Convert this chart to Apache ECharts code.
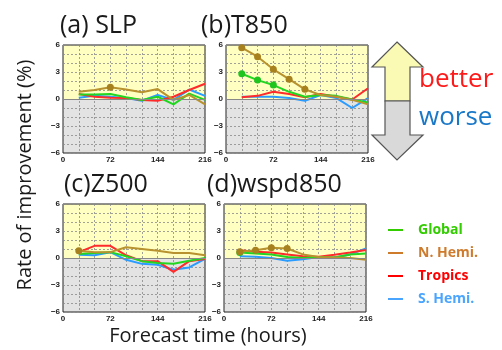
<!DOCTYPE html>
<html>
<head>
<meta charset="utf-8">
<script src="https://cdn.jsdelivr.net/npm/echarts@6/dist/echarts.min.js"></script>
<style>
  html, body { margin: 0; padding: 0; background: #fff; }
  #chart { width: 502px; height: 350px; }
</style>
</head>
<body>
<div id="chart"></div>
<script>
// forecast lead times (hours)
const hours = [24, 48, 72, 96, 120, 144, 168, 192, 216];
const xTickLabels = [0, 72, 144, 216];
const yTickLabels = [-6, -3, 0, 3, 6];

const regionNames = ['Global', 'N. Hemi.', 'Tropics', 'S. Hemi.'];
const panelTitles = ['(a) SLP', '(b)T850', '(c)Z500', '(d)wspd850'];

// (a) SLP
const slpGlobal = [0.5, 0.5, 0.55, 0.2, -0.1, 0.25, -0.6, 0.6, -0.1];
const slpNH     = [0.8, 1.0, 1.3, 1.05, 0.75, 1.1, -0.1, 0.45, -0.6];
const slpTrop   = [0.55, 0.25, 0.15, 0.1, -0.1, -0.2, 0.25, 1.0, 1.7];
const slpSH     = [0.15, 0.35, 0.25, 0.1, -0.2, 0.45, -0.1, 1.05, 0.35];
// (b) T850
const t850Global = [2.8, 2.1, 1.55, 0.8, 0.25, 0.45, 0.35, -0.05, -0.4];
const t850NH     = [5.7, 4.7, 3.3, 2.2, 1.07, 0.45, 0.25, -0.1, -0.6];
const t850Trop   = [0.2, 0.35, 0.8, 0.55, 0.2, 0.55, 0.25, -0.05, 1.2];
const t850SH     = [0.25, 0.25, 0.25, 0.1, -0.2, 0.45, 0.1, -1.0, 0.1];
// (c) Z500
const z500Global = [0.45, 0.55, 0.65, 0.2, -0.35, -0.55, -0.65, -0.3, 0.0];
const z500NH     = [0.8, 0.65, 0.65, 1.2, 1.0, 0.8, 0.55, 0.55, 0.3];
const z500Trop   = [0.65, 1.35, 1.35, 0.3, -0.35, -0.35, -1.55, -0.35, -0.1];
const z500SH     = [0.35, 0.3, 0.65, -0.2, -0.65, -0.75, -1.3, -1.05, -0.1];
// (d) wspd850
const wspdGlobal = [0.6, 0.5, 0.4, 0.1, 0.0, 0.1, 0.05, 0.4, 0.5];
const wspdNH     = [0.7, 0.85, 1.15, 1.05, 0.4, 0.1, 0.05, 0.0, -0.2];
const wspdTrop   = [0.85, 0.7, 0.6, 0.4, 0.2, 0.15, 0.35, 0.6, 0.9];
const wspdSH     = [0.2, 0.15, 0.0, -0.3, -0.15, 0.1, 0.05, 0.4, 1.05];

// lead times marked with a dot (significant)
const slpNHDots = [72];
const t850NHDots = [24, 48, 72, 96, 120];
const t850GlobalDots = [24, 48, 72];
const z500NHDots = [24];
const wspdNHDots = [24, 48, 72, 96];
const wspdGlobalDots = [24];

const colors = {
  'Global': '#22d622',
  'N. Hemi.': '#b8922e',
  'Tropics': '#ff2b2b',
  'S. Hemi.': '#2b9cff'
};
const dotColors = {
  'Global': '#1fc41f',
  'N. Hemi.': '#a8811f',
  'Tropics': '#ff2b2b',
  'S. Hemi.': '#2b9cff'
};
const legendColors = {
  'Global': '#33cc00',
  'N. Hemi.': '#cf7b2c',
  'Tropics': '#ff0000',
  'S. Hemi.': '#4aa5ff'
};

const panels = [
  { left: 63,  top: 45,  data: { 'Global': slpGlobal, 'N. Hemi.': slpNH, 'Tropics': slpTrop, 'S. Hemi.': slpSH },
    dots: { 'N. Hemi.': slpNHDots } },
  { left: 226, top: 45,  data: { 'Global': t850Global, 'N. Hemi.': t850NH, 'Tropics': t850Trop, 'S. Hemi.': t850SH },
    dots: { 'N. Hemi.': t850NHDots, 'Global': t850GlobalDots } },
  { left: 63,  top: 204, data: { 'Global': z500Global, 'N. Hemi.': z500NH, 'Tropics': z500Trop, 'S. Hemi.': z500SH },
    dots: { 'N. Hemi.': z500NHDots } },
  { left: 224, top: 204, data: { 'Global': wspdGlobal, 'N. Hemi.': wspdNH, 'Tropics': wspdTrop, 'S. Hemi.': wspdSH },
    dots: { 'N. Hemi.': wspdNHDots, 'Global': wspdGlobalDots } }
];

const grids = [], xAxes = [], yAxes = [], series = [], titles = [];
const titlePos = [[55, 8], [196, 8], [59, 167], [202, 167]];
const drawOrder = ['S. Hemi.', 'Tropics', 'Global', 'N. Hemi.'];

panels.forEach((p, i) => {
  grids.push({ left: p.left, top: p.top, width: 142, height: 108, show: true,
    borderColor: '#222', borderWidth: 1, backgroundColor: 'transparent', z: 1 });
  xAxes.push({ type: 'value', gridIndex: i, min: 0, max: 216, interval: 24, z: 1,
    axisLine: { show: false }, axisTick: { show: false },
    axisLabel: { margin: 3, fontSize: 8, fontWeight: 'bold', color: '#222', fontFamily: 'Liberation Sans',
      formatter: v => xTickLabels.includes(v) ? String(v) : '' },
    splitLine: { show: true, lineStyle: { color: '#8a8a8a', width: 0.8, type: [2, 2] } } });
  yAxes.push({ type: 'value', gridIndex: i, min: -6, max: 6, interval: 1, z: 1,
    axisLine: { show: false }, axisTick: { show: false },
    axisLabel: { margin: 3, fontSize: 8, fontWeight: 'bold', color: '#222', fontFamily: 'Liberation Sans',
      formatter: v => yTickLabels.includes(v) ? (v < 0 ? '\u2212' + (-v) : String(v)) : '' },
    splitLine: { show: true, lineStyle: { color: '#8a8a8a', width: 0.8, type: [2, 2] } } });

  // background: yellow = better, gray = worse
  series.push({ type: 'line', xAxisIndex: i, yAxisIndex: i, data: [], z: 0, silent: true,
    markArea: { silent: true, z: 0, data: [
      [{ yAxis: 0, itemStyle: { color: '#ffffc2' } }, { yAxis: 6 }],
      [{ yAxis: -6, itemStyle: { color: '#e3e3e3' } }, { yAxis: 0 }]
    ] },
    markLine: { silent: true, symbol: 'none', label: { show: false },
      lineStyle: { color: '#888', width: 1, type: 'solid' }, data: [{ yAxis: 0 }] } });

  drawOrder.forEach(name => {
    const vals = p.data[name];
    const dots = p.dots[name] || [];
    series.push({
      type: 'line', name: name, xAxisIndex: i, yAxisIndex: i, z: 3,
      color: colors[name], symbolSize: 7,
      lineStyle: { width: 2, color: colors[name] },
      itemStyle: { color: dotColors[name] },
      data: hours.map((h, k) => ({ value: [h, vals[k]], symbol: dots.includes(h) ? 'circle' : 'none' }))
    });
  });

  titles.push({ text: panelTitles[i], left: titlePos[i][0], top: titlePos[i][1],
    textStyle: { fontSize: 25, fontWeight: 'normal', color: '#1a1a1a', fontFamily: 'Open Sans' } });
});

const chart = echarts.init(document.getElementById('chart'));
chart.setOption({
  animation: false,
  backgroundColor: '#fff',
  title: titles,
  grid: grids,
  xAxis: xAxes,
  yAxis: yAxes,
  legend: {
    orient: 'vertical', left: 383, top: 218, itemWidth: 15, itemHeight: 2, itemGap: 9,
    icon: 'rect',
    textStyle: { fontSize: 14, fontWeight: 'bold', fontFamily: 'Open Sans', padding: [0, 0, 0, 10] },
    data: regionNames.map(n => ({ name: n, itemStyle: { color: legendColors[n] },
      textStyle: { color: legendColors[n] } }))
  },
  graphic: [
    // better / worse arrows
    { type: 'polygon', shape: { points: [[397, 42], [423, 67], [410, 67], [410, 101], [385, 101], [385, 67], [372, 67]] },
      style: { fill: '#fafab4', stroke: '#555', lineWidth: 1.2 } },
    { type: 'polygon', shape: { points: [[385, 101], [410, 101], [410, 135], [423, 135], [397, 160], [372, 135], [385, 135]] },
      style: { fill: '#d9d9d9', stroke: '#555', lineWidth: 1.2 } },
    { type: 'text', left: 419, top: 67, style: { text: 'better', fill: '#ff1a1a', fontSize: 26, fontFamily: 'Open Sans' } },
    { type: 'text', left: 419, top: 105, style: { text: 'worse', fill: '#1a78c8', fontSize: 26, fontFamily: 'Open Sans' } },
    // axis titles
    { type: 'text', x: 25, y: 175, rotation: Math.PI / 2,
      style: { text: 'Rate of improvement (%)', fill: '#1a1a1a', fontSize: 20, fontFamily: 'Open Sans',
        align: 'center', verticalAlign: 'middle' } },
    { type: 'text', x: 208, y: 336,
      style: { text: 'Forecast time (hours)', fill: '#1a1a1a', fontSize: 20, fontFamily: 'Open Sans',
        align: 'center', verticalAlign: 'middle' } }
  ],
  series: series
});

window.addEventListener('resize', function() {
  chart.resize();
});
</script>
</body>
</html>
